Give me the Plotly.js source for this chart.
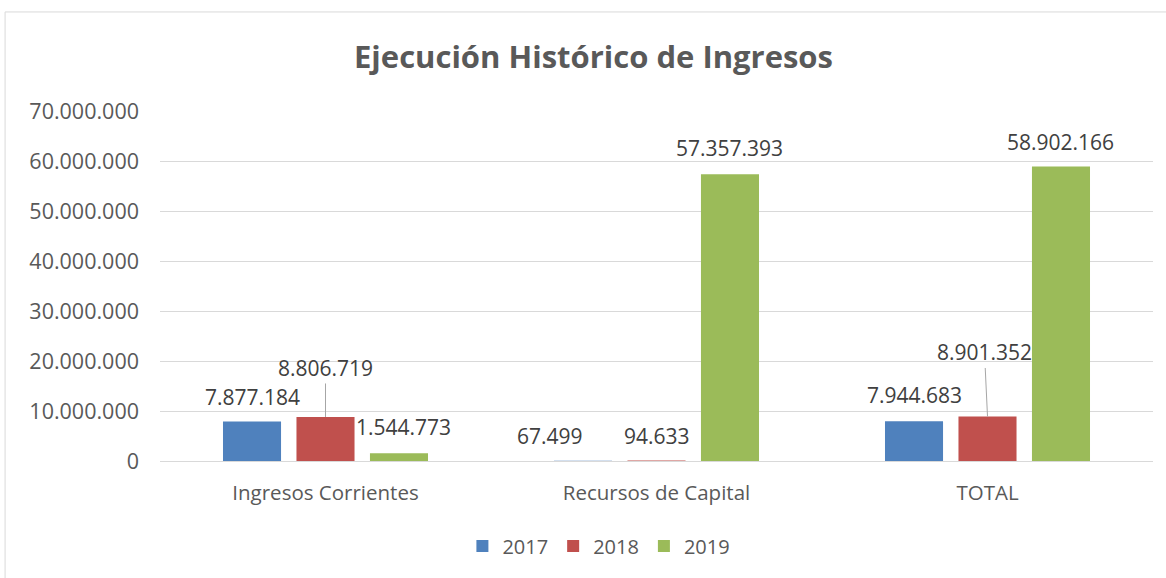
<!DOCTYPE html>
<html>
<head>
<meta charset="utf-8">
<script src="https://cdn.plot.ly/plotly-3.0.1.min.js"></script>
<style>
  html, body { margin: 0; padding: 0; background: #fff; }
  #chart { width: 1166px; height: 578px; }
</style>
</head>
<body>
<div id="chart"></div>
<script>
// data
var categories = ["Ingresos Corrientes", "Recursos de Capital", "TOTAL"];
var years = ["2017", "2018", "2019"];
var values2017 = [7877184, 67499, 7944683];
var values2018 = [8806719, 94633, 8901352];
var values2019 = [1544773, 57357393, 58902166];
var yTicks = [0, 10000000, 20000000, 30000000, 40000000, 50000000, 60000000, 70000000];

var colors = ["#4F81BD", "#C0504D", "#9BBB59"];
var series = [values2017, values2018, values2019];

// label offsets (pixels, from bar top) - Excel had them dragged around a bit
var labelAx = [[0, 0, 5], [-33, 0, 0], [0, -3, 0]];
var labelAy = [[-25, -49, -26], [-25, -25, -26], [-26, -64, -24]];
var leader = [[false, true, false], [false, false, false], [false, true, false]];

var bargap = 0.334;
var bargroupgap = 0.21;

function puntos(n) {
    return n.toString().replace(/\B(?=(\d{3})+(?!\d))/g, ".");
}

var data = series.map(function(vals, s) {
    return {
        x: categories,
        y: vals,
        name: years[s],
        type: "bar",
        marker: {color: colors[s]},
        hoverinfo: "skip"
    };
});

// position of each bar inside its group, in category units
var slot = (1 - bargap) / series.length;
var annotations = [];
categories.forEach(function(cat, c) {
    series.forEach(function(vals, s) {
        annotations.push({
            x: c + (s - 1) * slot,
            y: vals[c],
            xref: "x", yref: "y",
            text: puntos(vals[c]),
            showarrow: true,
            arrowhead: 0,
            arrowwidth: 1,
            arrowcolor: leader[c][s] ? "#A6A6A6" : "rgba(0,0,0,0)",
            ax: labelAx[c][s],
            ay: labelAy[c][s],
            font: {family: "Open Sans", size: 21, color: "#404040"}
        });
    });
});

var layout = {
    width: 1166,
    height: 578,
    margin: {l: 160, r: 13, t: 111, b: 117},
    paper_bgcolor: "#fff",
    plot_bgcolor: "#fff",
    separators: ",.",
    barmode: "group",
    bargap: bargap,
    bargroupgap: bargroupgap,
    title: {
        text: "<b>Ejecución Histórico de Ingresos</b>",
        font: {family: "Open Sans", size: 31, color: "#595959"},
        x: 0.509, xanchor: "center",
        y: 0.901, yanchor: "middle", yref: "container"
    },
    xaxis: {
        type: "category",
        showgrid: false,
        zeroline: false,
        showline: false,
        ticks: "",
        ticklabelstandoff: 17,
        tickfont: {family: "Open Sans", size: 20.5, color: "#595959"},
        fixedrange: true
    },
    yaxis: {
        range: [0, 70000000],
        tickvals: yTicks,
        tickformat: ",d",
        showgrid: true,
        gridcolor: "#D9D9D9",
        gridwidth: 1,
        zeroline: true,
        zerolinecolor: "#D9D9D9",
        zerolinewidth: 1,
        ticks: "",
        ticklabelstandoff: 20,
        tickfont: {family: "Open Sans", size: 21.5, color: "#595959"},
        fixedrange: true
    },
    showlegend: true,
    legend: {
        orientation: "h",
        x: 0.442, xanchor: "center",
        y: -0.243, yanchor: "middle",
        font: {family: "Open Sans", size: 20, color: "#595959"},
        traceorder: "normal"
    },
    annotations: annotations,
    shapes: [{
        type: "rect",
        xref: "paper", yref: "paper",
        x0: -0.156, x1: 1.02, y0: -0.38, y1: 1.283,
        line: {color: "#D9D9D9", width: 1},
        fillcolor: "rgba(0,0,0,0)",
        layer: "below"
    }]
};

Plotly.newPlot("chart", data, layout, {displayModeBar: false, staticPlot: true});
</script>
</body>
</html>
